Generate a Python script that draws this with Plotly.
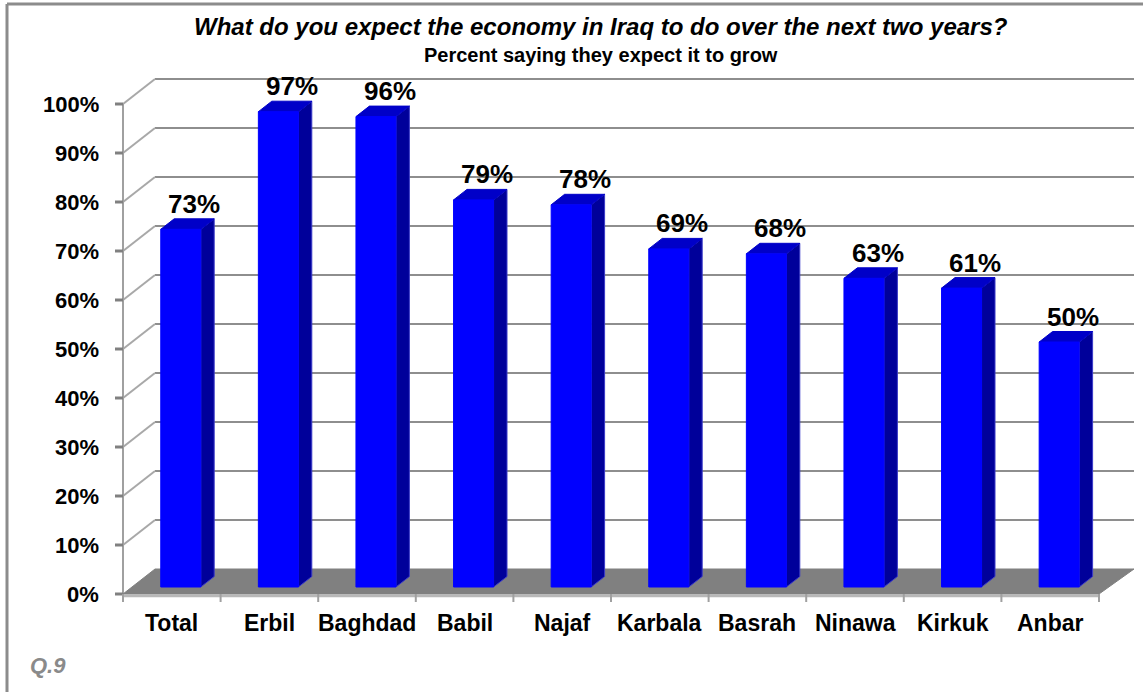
import plotly.graph_objects as go

# Survey results: share expecting the economy to grow, by region
categories = ["Total", "Erbil", "Baghdad", "Babil", "Najaf", "Karbala",
              "Basrah", "Ninawa", "Kirkuk", "Anbar"]
values = [73, 97, 96, 79, 78, 69, 68, 63, 61, 50]
y_ticks = [0, 10, 20, 30, 40, 50, 60, 70, 80, 90, 100]
y_tick_labels = [f"{t}%" for t in y_ticks]

title_text = "What do you expect the economy in Iraq to do over the next two years?"
subtitle_text = "Percent saying they expect it to grow"
footnote_text = "Q.9"

FONT = "Liberation Sans, Arial, sans-serif"

W, H = 1143, 692
PX_PER_CAT = 97.6      # horizontal pixels per category slot
PX_PER_PCT = 4.9       # vertical pixels per percentage point
AXIS_LEFT_PX = 123     # front left corner of the floor
FLOOR_FRONT_PX = 594   # front edge of the floor (0%)

# axis ranges so that one data unit maps to the sizes above
x0 = -0.5 - AXIS_LEFT_PX / PX_PER_CAT
x1 = x0 + W / PX_PER_CAT
y1 = FLOOR_FRONT_PX / PX_PER_PCT
y0 = y1 - H / PX_PER_PCT

# oblique depth of the chart box (32 px right, 25 px up)
DEPTH_X = 32 / PX_PER_CAT
DEPTH_Y = 25 / PX_PER_PCT
BAR_FRONT = 0.28        # bar front plane, fraction of box depth
BAR_BACK = 0.70         # bar back plane
BAR_HALF = 20 / PX_PER_CAT

FRONT_COLOR = "#0000FF"
SIDE_COLOR = "#00009A"
TOP_COLOR = "#0000C8"
FLOOR_COLOR = "#808080"
GRID_COLOR = "#8E8E8E"


def proj(x, p, depth):
    """Point on the value plane shifted back by a fraction of the box depth."""
    return x + depth * DEPTH_X, p + depth * DEPTH_Y


fig = go.Figure()
shapes = []
annotations = []

# back wall gridlines and the side-wall diagonals that lead to them
for t in y_ticks[1:]:
    bx, by = proj(-0.5, t, 1.0)
    ex, _ = proj(len(categories) - 0.5, t, 1.0)
    shapes.append(dict(type="line", x0=bx, y0=by, x1=ex + 3 / PX_PER_CAT, y1=by,
                       line=dict(color=GRID_COLOR, width=2), layer="below"))
    shapes.append(dict(type="line", x0=-0.5, y0=t, x1=bx, y1=by,
                       line=dict(color="#A8A8A8", width=2), layer="below"))

# front value axis with tick marks
shapes.append(dict(type="line", x0=-0.5, y0=0, x1=-0.5, y1=100,
                   line=dict(color="#A0A0A0", width=2), layer="below"))
for t in y_ticks:
    shapes.append(dict(type="line", x0=-0.5 - 8 / PX_PER_CAT, y0=t, x1=-0.5, y1=t,
                       line=dict(color="#808080", width=3), layer="below"))

# floor slab
fx = [-0.5, len(categories) - 0.5]
bl = proj(fx[0], 0, 1.0)
br = proj(fx[1] + 3 / PX_PER_CAT, 0, 1.0)
fig.add_trace(go.Scatter(
    x=[fx[0], fx[1], br[0], bl[0], fx[0]], y=[0, 0, br[1], bl[1], 0],
    mode="lines", fill="toself", fillcolor=FLOOR_COLOR,
    line=dict(color=FLOOR_COLOR, width=1), hoverinfo="skip", showlegend=False))
shapes.append(dict(type="line", x0=fx[0], y0=-0.35, x1=fx[1], y1=-0.35,
                   line=dict(color="#B8B8B8", width=3)))

# category tick marks under the floor edge
for k in range(len(categories) + 1):
    shapes.append(dict(type="line", x0=k - 0.5, y0=0, x1=k - 0.5, y1=-8 / PX_PER_PCT,
                       line=dict(color="#A0A0A0", width=2)))

# bars: side face, top face, front face
for i, v in enumerate(values):
    fl = proj(i - BAR_HALF, 0, BAR_FRONT)
    fr = proj(i + BAR_HALF, 0, BAR_FRONT)
    ftl = proj(i - BAR_HALF, v, BAR_FRONT)
    ftr = proj(i + BAR_HALF, v, BAR_FRONT)
    br_ = proj(i + BAR_HALF, 0, BAR_BACK)
    btl = proj(i - BAR_HALF, v, BAR_BACK)
    btr = proj(i + BAR_HALF, v, BAR_BACK)

    fig.add_trace(go.Scatter(
        x=[fr[0], br_[0], btr[0], ftr[0], fr[0]],
        y=[fr[1], br_[1], btr[1], ftr[1], fr[1]],
        mode="lines", fill="toself", fillcolor=SIDE_COLOR,
        line=dict(color="#3A3AC8", width=1), hoverinfo="skip", showlegend=False))
    fig.add_trace(go.Scatter(
        x=[ftl[0], ftr[0], btr[0], btl[0], ftl[0]],
        y=[ftl[1], ftr[1], btr[1], btl[1], ftl[1]],
        mode="lines", fill="toself", fillcolor=TOP_COLOR,
        line=dict(color=TOP_COLOR, width=1), hoverinfo="skip", showlegend=False))
    fig.add_trace(go.Scatter(
        x=[fl[0], fr[0], ftr[0], ftl[0], fl[0]],
        y=[fl[1], fr[1], ftr[1], ftl[1], fl[1]],
        mode="lines", fill="toself", fillcolor=FRONT_COLOR,
        line=dict(color=FRONT_COLOR, width=1), hoverinfo="skip", showlegend=False))

    # value label above the bar
    annotations.append(dict(
        x=(ftl[0] + btr[0]) / 2 + 7 / PX_PER_CAT, y=btr[1], xref="x", yref="y",
        text=f"<b>{v}%</b>", showarrow=False, yanchor="bottom", yshift=-2,
        font=dict(family=FONT, size=26, color="black")))

    # category label
    annotations.append(dict(
        x=i, y=-29 / PX_PER_PCT, xref="x", yref="y", text=f"<b>{categories[i]}</b>",
        showarrow=False, yanchor="middle",
        font=dict(family=FONT, size=23, color="black")))

# value axis labels
for t, lab in zip(y_ticks, y_tick_labels):
    annotations.append(dict(
        x=-0.5 - 22 / PX_PER_CAT, y=t, xref="x", yref="y", text=f"<b>{lab}</b>",
        showarrow=False, xanchor="right", yanchor="middle",
        font=dict(family=FONT, size=22, color="black")))

# titles and footnote
annotations.append(dict(
    x=601 / W, y=1 - 27 / H, xref="paper", yref="paper",
    text=f"<b><i>{title_text}</i></b>", showarrow=False, yanchor="middle",
    font=dict(family=FONT, size=24, color="black")))
annotations.append(dict(
    x=601 / W, y=1 - 55 / H, xref="paper", yref="paper",
    text=f"<b>{subtitle_text}</b>", showarrow=False, yanchor="middle",
    font=dict(family=FONT, size=20, color="black")))
annotations.append(dict(
    x=28 / W, y=1 - 665 / H, xref="paper", yref="paper",
    text=f"<b><i>{footnote_text}</i></b>", showarrow=False,
    xanchor="left", yanchor="middle",
    font=dict(family=FONT, size=22, color="#8A8A8A")))

# outer frame (left and top edges)
shapes.append(dict(type="line", xref="paper", yref="paper",
                   x0=7 / W, y0=0, x1=7 / W, y1=1 - 4 / H,
                   line=dict(color="#8C8C8C", width=3)))
shapes.append(dict(type="line", xref="paper", yref="paper",
                   x0=7 / W, y0=1 - 4 / H, x1=1, y1=1 - 4 / H,
                   line=dict(color="#8C8C8C", width=3)))

fig.update_layout(
    width=W, height=H,
    margin=dict(l=0, r=0, t=0, b=0),
    paper_bgcolor="white", plot_bgcolor="white",
    xaxis=dict(range=[x0, x1], visible=False, fixedrange=True),
    yaxis=dict(range=[y0, y1], visible=False, fixedrange=True),
    shapes=shapes, annotations=annotations, showlegend=False,
)

fig.write_html("out.html")
